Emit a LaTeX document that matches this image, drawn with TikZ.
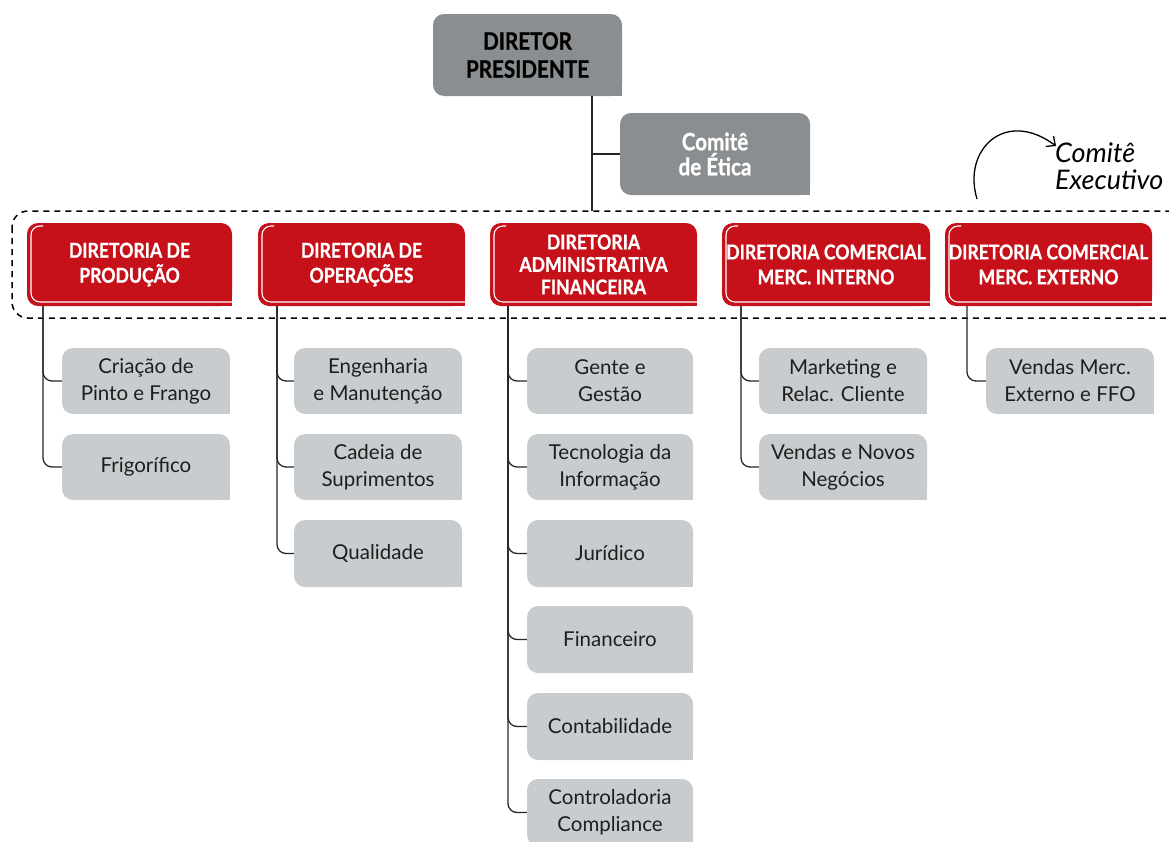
\documentclass[tikz,border=0pt]{standalone}
\usepackage{fontspec}
\setmainfont{Lato}
\newfontfamily\headfont{Lato}[FakeStretch=0.86,FakeBold=0.8]
\usetikzlibrary{arrows.meta}
\definecolor{redbox}{RGB}{198,17,26}
\definecolor{dgrey}{RGB}{138,142,144}
\definecolor{lgrey}{RGB}{200,204,206}
\definecolor{txt}{RGB}{30,30,30}
% #1 name, #2 colour, #3 x0, #4 y0, #5 x1, #6 y1, #7 style, #8 text
\newcommand\mybox[8]{%
  \fill[#2, rounded corners=11pt] (#3,#4) rectangle (#5,#6);
  \fill[#2] (#5-12,#6-12) rectangle (#5,#6);
  \node[inner sep=0pt, minimum width={#5pt-#3pt}, minimum height={#6pt-#4pt}, #7]
    (#1) at ({(#3+#5)/2},{(#4+#6)/2}) {#8};
}
\newcommand\myredbox[7]{%
  \mybox{#1}{redbox}{#2}{#3}{#4}{#5}{#6}{#7}
  \draw[white, line width=1.1pt, rounded corners=9pt]
    (#4,#5-4) -- (#2+4,#5-4) -- (#2+4,#3+3) -- (#2+16,#3+3);
}
\begin{document}
\begin{tikzpicture}[x=1pt,y=-1pt,
  conn/.style={draw=black!85, line width=1.3pt, rounded corners=9pt},
  subtxt/.style={font=\fontsize{20.5}{27}\selectfont, text=txt, align=center},
  headtxt/.style={font=\headfont\bfseries\fontsize{20.5}{25}\selectfont, text=white, align=center},
  headtxtb/.style={font=\headfont\bfseries\fontsize{20.5}{22.5}\selectfont, text=white, align=center},
  dirtxt/.style={font=\headfont\bfseries\fontsize{24}{28}\selectfont, text=black, align=center},
  etitxt/.style={font=\headfont\bfseries\fontsize{24}{25}\selectfont, text=white, align=center},
  ]
\useasboundingbox (0,0) rectangle (1169,841);
\clip (0,0) rectangle (1169,841);

% dashed committee frame
\draw[black, line width=1.5pt, dash pattern=on 6pt off 5pt, rounded corners=16pt]
  (12,211) rectangle (1185,318);

% top
\mybox{dp}{dgrey}{433}{14}{622}{96}{dirtxt}{DIRETOR\\PRESIDENTE}
\mybox{etica}{dgrey}{620}{113}{810}{195}{etitxt}{Comitê\\de Ética}

% directorates
\myredbox{d1}{27}{223}{232}{306}{headtxt}{DIRETORIA DE\\PRODUÇÃO}
\myredbox{d2}{258}{223}{465}{306}{headtxt}{DIRETORIA DE\\OPERAÇÕES}
\myredbox{d3}{490}{223}{697}{306}{headtxtb}{DIRETORIA\\ADMINISTRATIVA\\FINANCEIRA}
\myredbox{d4}{722}{223}{930}{306}{headtxt}{DIRETORIA COMERCIAL\\MERC. INTERNO}
\myredbox{d5}{945}{223}{1152}{306}{headtxt}{DIRETORIA COMERCIAL\\MERC. EXTERNO}

% sub areas
\mybox{c11}{lgrey}{62}{348}{230}{414}{subtxt}{Criação de\\Pinto e Frango}
\mybox{c12}{lgrey}{62}{434}{230}{500}{subtxt}{Frigorífico}
\mybox{c21}{lgrey}{294}{348}{462}{414}{subtxt}{Engenharia\\e Manutenção}
\mybox{c22}{lgrey}{294}{434}{462}{500}{subtxt}{Cadeia de\\Suprimentos}
\mybox{c23}{lgrey}{294}{520}{462}{587}{subtxt}{Qualidade}
\mybox{c31}{lgrey}{527}{348}{693}{414}{subtxt}{Gente e\\Gestão}
\mybox{c32}{lgrey}{527}{434}{693}{500}{subtxt}{Tecnologia da\\Informação}
\mybox{c33}{lgrey}{527}{520}{693}{587}{subtxt}{Jurídico}
\mybox{c34}{lgrey}{527}{606}{693}{673}{subtxt}{Financeiro}
\mybox{c35}{lgrey}{527}{693}{693}{760}{subtxt}{Contabilidade}
\mybox{c36}{lgrey}{527}{779}{693}{846}{subtxt}{Controladoria\\Compliance}
\mybox{c41}{lgrey}{759}{348}{927}{414}{subtxt}{Marketing e\\Relac. Cliente}
\mybox{c42}{lgrey}{759}{434}{927}{500}{subtxt}{Vendas e Novos\\Negócios}
\mybox{c51}{lgrey}{986}{348}{1154}{414}{subtxt}{Vendas Merc.\\Externo e FFO}

% connectors
\coordinate (dpl) at (592,96);
\coordinate (dpe) at (592,211);
\draw[conn] (dpl) -- (dpe);
\draw[conn] (etica.west) -- (etica.west -| dpl);

\coordinate (t1) at (43,306);
\coordinate (t2) at (277,306);
\coordinate (t3) at (508,306);
\coordinate (t4) at (741,306);
\coordinate (t5) at (967,306);
\foreach \c in {c11,c12} \draw[conn] (t1) |- (\c.west);
\foreach \c in {c21,c22,c23} \draw[conn] (t2) |- (\c.west);
\foreach \c in {c31,c32,c33,c34,c35,c36} \draw[conn] (t3) |- (\c.west);
\foreach \c in {c41,c42} \draw[conn] (t4) |- (\c.west);
\foreach \c in {c51} \draw[conn] (t5) |- (\c.west);

% comite executivo
\node[anchor=north west, align=left, inner sep=0pt,
  font=\itshape\fontsize{27}{27}\selectfont] (ce) at (1055,143) {Comitê\\Executivo};
\coordinate (ces) at (977,199);
\draw[line width=1.3pt, -{Straight Barb[length=7pt,width=13pt]}]
  (ces) .. controls (962,150) and (1005,108) .. ([shift={(1pt,-3pt)}]ce.north west);
\end{tikzpicture}
\end{document}
